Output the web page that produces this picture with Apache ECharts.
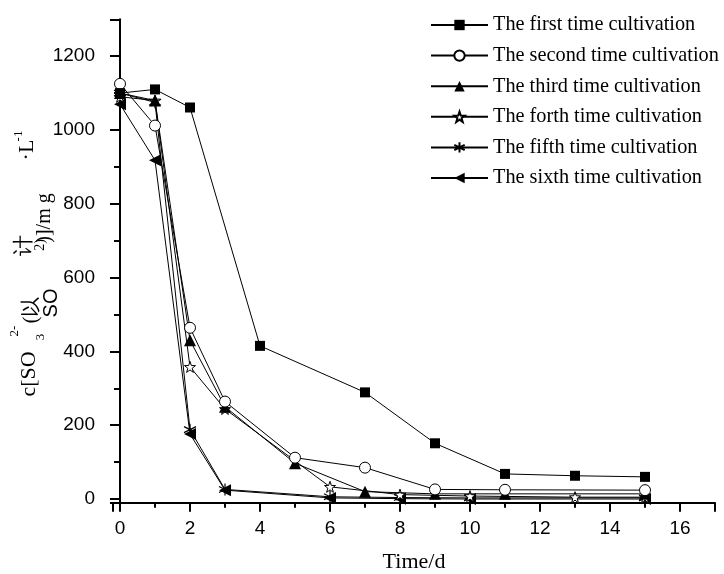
<!DOCTYPE html>
<html><head><meta charset="utf-8">
<script src="https://cdn.jsdelivr.net/npm/echarts@6/dist/echarts.min.js"></script>
<style>html,body{margin:0;padding:0;background:#fff}#c{width:724px;height:574px}</style>
</head><body><div id="c"></div>
<script>
const seriesNames = ['The first time cultivation','The second time cultivation','The third time cultivation','The forth time cultivation','The fifth time cultivation','The sixth time cultivation'];
const x1 = [0,1,2,4,7,9,11,13,15];
const y1 = [1100,1110,1061,415,289,151,68,63,60];
const x2 = [0,1,2,3,5,7,9,11,15];
const y2 = [1125,1012,464,264,112,85,26,25,24];
const x3 = [0,1,2,3,5,7,9,11,15];
const y3 = [1100,1080,430,250,97,20,14,14,14];
const x4 = [0,1,2,3,6,8,10,13,15];
const y4 = [1090,1080,358,244,33,12,8,5,5];
const x5 = [0,1,2,3,6,8,10,15];
const y5 = [1100,1075,188,26,6,4,3,3];
const x6 = [0,1,2,3,6,8,10,15];
const y6 = [1070,918,176,24,3,1,0,0];
const xTitle = 'Time/d';

const STAR = 'path://M0,-10L2.351,-3.236L9.511,-3.09L3.804,1.236L5.878,8.09L0,4L-5.878,8.09L-3.804,1.236L-9.511,-3.09L-2.351,-3.236Z';
const AST = 'path://M0,-10L0,10M-8.66,-5L8.66,5M-8.66,5L8.66,-5';

function pairs(xs, ys){ return xs.map((x,i)=>[x, ys[i]]); }
const xsAll=[x1,x2,x3,x4,x5,x6], ysAll=[y1,y2,y3,y4,y5,y6];
const symbols = [
  {symbol:'rect', size:10, item:{color:'#000'}},
  {symbol:'circle', size:11, item:{color:'#fff', borderColor:'#000', borderWidth:1}},
  {symbol:'triangle', size:12, item:{color:'#000'}},
  {symbol:STAR, size:11, item:{color:'#fff', borderColor:'#000', borderWidth:1}},
  {symbol:AST, size:12, item:{color:'#000', borderColor:'#000', borderWidth:1.2}},
  {symbol:'triangle', size:12, rotate:90, item:{color:'#000'}}
];
const series = seriesNames.map((n,i)=>({
  name:n, type:'line', data:pairs(xsAll[i], ysAll[i]),
  symbol:symbols[i].symbol, symbolSize:symbols[i].size, symbolRotate:symbols[i].rotate||0,
  showAllSymbol:true,
  lineStyle:{color:'#000', width:1},
  itemStyle:symbols[i].item,
  emphasis:{disabled:true},
  z: 10-i
}));

const serif = '"Liberation Serif","Times New Roman",serif';
const sans = '"Liberation Sans",Arial,sans-serif';
function vt(text, x, y, size, font){
  return {type:'text', x:x, y:y, rotation:Math.PI/2,
    style:{text:text, fontSize:size, fontFamily:font||serif, fill:'#000', align:'center', verticalAlign:'middle'}};
}

const chart = echarts.init(document.getElementById('c'), null, {renderer:'canvas'});
chart.setOption({
  animation:false,
  backgroundColor:'#fff',
  grid:{left:113, right:9, top:19.3, bottom:71.3, containLabel:false, outerBoundsMode:'none'},
  legend:{
    orient:'vertical', left:425, top:9, itemWidth:57, itemHeight:13, itemGap:8.6,
    data:seriesNames,
    textStyle:{fontFamily:serif, fontSize:20.3, color:'#000', lineHeight:22},
    selectedMode:false
  },
  xAxis:{
    type:'value', min:-0.2, max:17, splitNumber:8,
    name:xTitle, nameLocation:'middle', nameGap:49,
    nameTextStyle:{fontFamily:serif, fontSize:22, color:'#000'},
    axisLine:{onZero:false, lineStyle:{color:'#000', width:2}},
    axisTick:{show:true, length:9, lineStyle:{color:'#000', width:2}},
    minorTick:{show:true, splitNumber:2, length:5, lineStyle:{color:'#000', width:2}},
    axisLabel:{fontFamily:sans, fontSize:19, color:'#000', margin:17,
      formatter:v=>(v<0||v>16)?'':String(v)},
    splitLine:{show:false}
  },
  yAxis:{
    type:'value', min:-10, max:1300, splitNumber:7,
    axisLine:{show:true, lineStyle:{color:'#000', width:2}},
    axisTick:{show:true, length:10, lineStyle:{color:'#000', width:2}},
    minorTick:{show:true, splitNumber:2, length:6, lineStyle:{color:'#000', width:2}},
    axisLabel:{fontFamily:sans, fontSize:19, color:'#000', margin:18,
      formatter:v=>(v<0||v>1200)?'':String(v)},
    splitLine:{show:false}
  },
  graphic:[
    vt('c[SO', 29, 374, 22),
    vt('3', 41, 337, 13),
    vt('2-', 15, 331, 13),
    vt('(以', 32, 310, 20),
    vt('SO', 51, 303, 20, sans),
    vt('2)', 40, 245, 14),
    vt('计', 24, 245, 21),
    vt(')]/m g', 45, 218, 20),
    vt('·L', 27, 150, 22),
    vt('-1', 19, 136, 13)
  ],
  series:series
});
</script></body></html>
